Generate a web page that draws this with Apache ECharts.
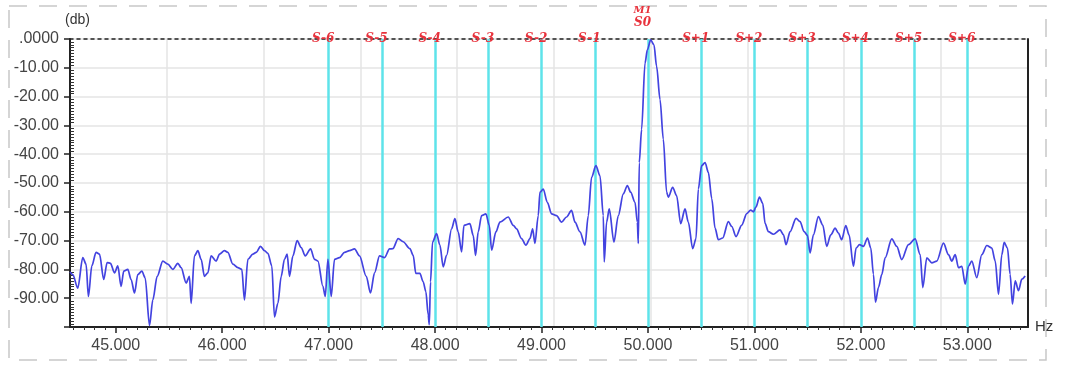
<!DOCTYPE html>
<html>
<head>
<meta charset="utf-8">
<script src="https://cdn.jsdelivr.net/npm/echarts@6/dist/echarts.min.js"></script>
<style>
  html, body { margin: 0; padding: 0; background: #fff; }
  #main { width: 1070px; height: 367px; }
</style>
</head>
<body>
<div id="main"></div>
<script>
// spectrum trace (Hz, dB)
var freqs = [
  44.570, 44.596, 44.643, 44.690, 44.721, 44.743, 44.775, 44.815, 44.847, 44.887,
  44.919, 44.950, 44.988, 45.019, 45.050, 45.075, 45.113, 45.144, 45.176, 45.207,
  45.245, 45.276, 45.317, 45.348, 45.389, 45.442, 45.489, 45.536, 45.583, 45.614,
  45.661, 45.692, 45.708, 45.739, 45.771, 45.802, 45.833, 45.865, 45.896, 45.943,
  45.975, 46.021, 46.053, 46.100, 46.147, 46.184, 46.209, 46.241, 46.288, 46.319,
  46.360, 46.397, 46.429, 46.466, 46.491, 46.523, 46.554, 46.585, 46.610, 46.632,
  46.664, 46.704, 46.742, 46.780, 46.830, 46.867, 46.899, 46.946, 46.968, 46.993,
  47.024, 47.055, 47.102, 47.149, 47.196, 47.243, 47.290, 47.353, 47.393, 47.431,
  47.478, 47.525, 47.572, 47.603, 47.653, 47.700, 47.763, 47.794, 47.819, 47.857,
  47.888, 47.913, 47.935, 47.945, 47.957, 47.976, 48.014, 48.045, 48.076, 48.108,
  48.155, 48.186, 48.217, 48.249, 48.271, 48.327, 48.358, 48.380, 48.405, 48.437,
  48.477, 48.509, 48.531, 48.571, 48.609, 48.687, 48.734, 48.765, 48.812, 48.853,
  48.891, 48.916, 48.938, 48.969, 48.985, 49.016, 49.054, 49.094, 49.141, 49.188,
  49.235, 49.282, 49.314, 49.361, 49.408, 49.439, 49.470, 49.511, 49.549, 49.580,
  49.589, 49.611, 49.636, 49.680, 49.721, 49.768, 49.806, 49.837, 49.878, 49.900,
  49.909, 49.918, 49.940, 49.972, 49.994, 50.025, 50.056, 50.081, 50.113, 50.144,
  50.175, 50.191, 50.232, 50.269, 50.307, 50.348, 50.379, 50.420, 50.451, 50.473,
  50.504, 50.536, 50.567, 50.599, 50.630, 50.661, 50.702, 50.755, 50.787, 50.827,
  50.881, 50.928, 50.965, 50.990, 51.015, 51.047, 51.078, 51.100, 51.131, 51.178,
  51.241, 51.273, 51.297, 51.335, 51.391, 51.429, 51.466, 51.498, 51.523, 51.554,
  51.601, 51.642, 51.679, 51.717, 51.758, 51.789, 51.820, 51.858, 51.889, 51.930,
  51.955, 51.987, 52.024, 52.062, 52.093, 52.118, 52.137, 52.165, 52.197, 52.228,
  52.290, 52.337, 52.384, 52.447, 52.510, 52.557, 52.582, 52.619, 52.666, 52.713,
  52.776, 52.823, 52.854, 52.886, 52.917, 52.948, 52.980, 53.011, 53.042, 53.089,
  53.136, 53.183, 53.230, 53.262, 53.293, 53.324, 53.346, 53.377, 53.402, 53.424,
  53.450, 53.481, 53.512, 53.543
];
var levels = [
  -80.9, -81.8, -86.5, -75.9, -78.2, -89.4, -78.8, -74.1, -74.7, -83.5,
  -77.6, -77.9, -81.2, -78.8, -85.9, -80.6, -80.0, -83.5, -88.2, -81.8,
  -80.6, -82.9, -99.5, -90.6, -82.4, -77.1, -78.2, -80.0, -77.9, -79.4,
  -84.7, -82.4, -91.8, -75.3, -73.5, -76.5, -82.4, -81.2, -75.3, -77.1,
  -74.7, -73.5, -74.1, -78.2, -79.4, -80.0, -90.6, -76.5, -74.7, -74.1,
  -72.0, -73.5, -74.4, -78.8, -96.5, -91.8, -82.4, -76.5, -74.7, -82.4,
  -75.3, -70.0, -72.4, -75.3, -72.9, -76.5, -77.1, -85.9, -89.4, -76.5,
  -89.4, -76.5, -75.9, -74.1, -73.5, -72.9, -75.3, -82.4, -88.2, -81.2,
  -75.3, -75.9, -72.9, -72.8, -69.3, -70.4, -72.8, -75.1, -81.4, -81.4,
  -84.3, -87.7, -95.7, -99.2, -84.3, -70.5, -67.6, -71.6, -79.1, -75.1,
  -65.9, -62.4, -67.0, -73.9, -64.7, -64.1, -68.2, -75.1, -67.0, -61.3,
  -60.7, -64.7, -73.3, -67.0, -63.6, -61.8, -64.7, -65.9, -69.3, -71.6,
  -69.3, -65.9, -71.0, -61.3, -53.2, -52.1, -56.7, -60.7, -61.3, -63.6,
  -61.8, -59.5, -63.6, -67.0, -71.6, -61.3, -48.0, -44.0, -47.5, -61.3,
  -77.4, -63.6, -59.0, -70.5, -61.3, -53.8, -50.9, -53.2, -56.7, -63.6,
  -71.0, -42.9, -31.4, -8.4, -3.8, -0.3, -2.0, -9.5, -21.0, -34.8,
  -53.2, -54.9, -51.5, -54.4, -64.1, -59.0, -63.6, -72.8, -69.3, -52.1,
  -44.0, -42.9, -46.3, -55.4, -65.7, -69.7, -69.1, -63.4, -65.1, -68.6,
  -64.6, -60.6, -59.4, -60.0, -58.3, -54.9, -57.1, -64.0, -66.9, -67.8,
  -66.3, -68.0, -71.4, -66.9, -62.3, -63.4, -66.9, -68.2, -74.3, -68.0,
  -61.7, -64.6, -72.0, -68.0, -65.7, -67.4, -69.7, -64.8, -68.0, -78.9,
  -72.6, -71.4, -72.0, -69.1, -72.6, -81.7, -91.4, -86.3, -81.7, -76.0,
  -69.4, -72.0, -76.6, -71.4, -69.4, -74.9, -86.3, -76.0, -77.7, -77.1,
  -70.9, -74.9, -77.1, -74.9, -79.4, -78.9, -85.1, -78.9, -77.1, -82.9,
  -74.9, -71.7, -72.6, -77.1, -88.6, -74.9, -70.6, -72.6, -81.7, -92.0,
  -84.0, -87.4, -83.4, -82.3
];

// sideband markers
var markerFreqs = [47, 47.5, 48, 48.5, 49, 49.5, 50, 50.5, 51, 51.5, 52, 52.5, 53];
var markerNames = ['S-6', 'S-5', 'S-4', 'S-3', 'S-2', 'S-1', 'S0', 'S+1', 'S+2', 'S+3', 'S+4', 'S+5', 'S+6'];

// axis ticks and labels
var xTickValues = [45, 46, 47, 48, 49, 50, 51, 52, 53];
var yTickValues = [0, -10, -20, -30, -40, -50, -60, -70, -80, -90];
var yTickLabels = ['.0000', '-10.00', '-20.00', '-30.00', '-40.00', '-50.00', '-60.00', '-70.00', '-80.00', '-90.00'];

var xMin = 44.57, xMax = 53.57;

var traceData = freqs.map(function (f, i) { return [f, levels[i]]; });

var minorX = [];
for (var t = 446; t <= 535; t++) {
  if (t % 10 !== 0) minorX.push(t / 10);
}

var markLines = markerFreqs.map(function (f, i) {
  var item = {
    xAxis: f,
    label: {
      show: true,
      formatter: markerNames[i],
      position: 'end',
      distance: -6,
      padding: [0, 11, 0, 0]
    }
  };
  if (markerNames[i] === 'S0') {
    item.label.formatter = '{m|M1}\n{s|S0}';
    item.label.distance = 10;
  }
  return item;
});

var option = {
  backgroundColor: '#ffffff',
  animation: false,
  grid: { left: 70, right: 42, top: 39, bottom: 40 },
  graphic: [{
    type: 'rect',
    shape: { x: 9, y: 6, width: 1037, height: 354 },
    style: { fill: 'none', stroke: '#c8c8c8', lineWidth: 1.5, lineDash: [18, 12] },
    silent: true,
    z: -10
  }],
  xAxis: [
    {
      type: 'value', min: xMin, max: xMax, position: 'bottom',
      name: 'Hz', nameLocation: 'end', nameGap: 7,
      nameTextStyle: { color: '#333', fontSize: 15, fontFamily: 'Liberation Sans' },
      axisLine: { onZero: false, lineStyle: { color: '#222', width: 2 } },
      axisTick: { customValues: xTickValues, length: 6, lineStyle: { color: '#222', width: 1.5 } },
      axisLabel: {
        customValues: xTickValues, margin: 11,
        color: '#444', fontSize: 16, fontFamily: 'Liberation Sans',
        formatter: function (v) { return v.toFixed(3); }
      },
      splitLine: { show: false }
    },
    {
      type: 'value', min: xMin, max: xMax, position: 'bottom',
      axisLine: { show: false, onZero: false },
      axisTick: { customValues: minorX, length: 3, lineStyle: { color: '#333', width: 1 } },
      axisLabel: { show: false },
      splitLine: { show: false }
    },
    {
      type: 'value', min: 0, max: 9.9, interval: 1, position: 'top',
      axisLine: { onZero: false, lineStyle: { color: '#222', width: 1.5, type: [3, 4] } },
      axisTick: { show: false },
      axisLabel: { show: false },
      splitLine: { show: true, lineStyle: { color: '#e4e4e4', width: 1.5 } }
    }
  ],
  yAxis: [
    {
      type: 'value', min: -100, max: 0, interval: 10, position: 'left',
      name: '(db)', nameLocation: 'end', nameGap: 12,
      nameTextStyle: { color: '#333', fontSize: 14, fontFamily: 'Liberation Sans', align: 'left', padding: [0, 0, 0, -5] },
      axisLine: { onZero: false, lineStyle: { color: '#222', width: 2 } },
      axisTick: { length: 6, lineStyle: { color: '#222', width: 1.5 } },
      axisLabel: {
        margin: 11, color: '#444', fontSize: 16, fontFamily: 'Liberation Sans',
        formatter: function (v) {
          var i = yTickValues.indexOf(v);
          return i >= 0 ? yTickLabels[i] : '';
        }
      },
      splitLine: { show: true, lineStyle: { color: '#e4e4e4', width: 1.5 } }
    },
    {
      // minor comb drawn inside the plot along the left axis
      type: 'value', min: -100, max: 0, interval: 10, position: 'right', offset: -958,
      axisLine: { show: false, onZero: false },
      axisTick: { show: false },
      minorTick: { show: true, splitNumber: 10, length: 4, lineStyle: { color: '#333', width: 1 } },
      axisLabel: { show: false },
      splitLine: { show: false }
    },
    {
      type: 'value', min: 0, max: 1, position: 'right',
      axisLine: { show: true, onZero: false, lineStyle: { color: '#222', width: 2 } },
      axisTick: { show: false },
      axisLabel: { show: false },
      splitLine: { show: false }
    }
  ],
  series: [
    {
      name: 'markers',
      type: 'line',
      xAxisIndex: 0,
      yAxisIndex: 0,
      data: [],
      z: 1,
      markLine: {
        silent: true,
        symbol: 'none',
        animation: false,
        lineStyle: { color: '#5ee3ea', width: 2.5, type: 'solid' },
        label: {
          color: '#e8323c',
          fontSize: 12,
          fontStyle: 'italic',
          fontWeight: 'bold',
          fontFamily: 'DejaVu Serif',
          rich: {
            m: { color: '#e8323c', fontSize: 10, fontStyle: 'italic', fontWeight: 'bold', fontFamily: 'DejaVu Serif', lineHeight: 12 },
            s: { color: '#e8323c', fontSize: 12, fontStyle: 'italic', fontWeight: 'bold', fontFamily: 'DejaVu Serif', lineHeight: 13 }
          }
        },
        data: markLines
      }
    },
    {
      name: 'spectrum',
      type: 'line',
      xAxisIndex: 0,
      yAxisIndex: 0,
      data: traceData,
      showSymbol: false,
      symbol: 'none',
      smooth: 0.3,
      smoothMonotone: 'x',
      z: 5,
      lineStyle: { color: '#4343e0', width: 1.7 },
      itemStyle: { color: '#4343e0' }
    }
  ]
};

var myChart = echarts.init(document.getElementById('main'));
myChart.setOption(option);
</script>
</body>
</html>
